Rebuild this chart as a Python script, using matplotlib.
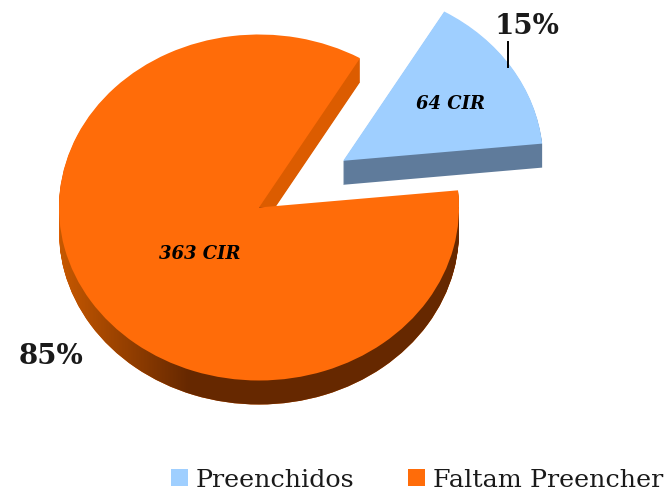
import numpy as np
import matplotlib.pyplot as plt
from matplotlib.colors import LinearSegmentedColormap

plt.rcParams['font.family'] = ['DejaVu Serif', 'Liberation Serif']

# --------------------------------
# Data
# --------------------------------
categories = ["Preenchidos", "Faltam Preencher"]
counts = [64, 363]
count_labels = ["64 CIR", "363 CIR"]
percent_labels = ["15%", "85%"]

# --------------------------------
# Style / geometry (picture pixels)
# --------------------------------
W, H = 667, 493
cx, cy = 259, 207.5
rx, ry = 200, 173
depth_px = 24

top_colors = ["#9fcfff", "#ff6c09"]
wall_colors = ["#5f7b9b", "#dc5c00"]
side_cmap = LinearSegmentedColormap.from_list("side", ["#c65800", "#662800"])


def px(x, y):
    return (x - cx) / rx, (cy - y) / ry


fig = plt.figure(figsize=(W / 100, H / 100), dpi=100)
ax = fig.add_axes([0, 0, 1, 1])

explode = [0.5, 0]
start = 5.7

# extruded sides, one pie per pixel of depth
for d in np.arange(depth_px, 0, -1):
    wedges, _ = ax.pie(counts, colors=wall_colors, explode=explode, startangle=start,
                       center=(0, -d / ry), wedgeprops={"linewidth": 0})
    for w in wedges:
        w.set_zorder(1)
    # outer rim of the big slice gets a left to right shading
    x0, y0 = px(60, cy)
    x1, y1 = px(190, cy + 240)
    grad = np.linspace(0, 1, 130).reshape(1, -1)
    im = ax.imshow(grad, cmap=side_cmap, extent=(x0, x1, y1, y0), aspect="auto", zorder=2)
    im.set_clip_path(wedges[1])
    x2, _ = px(460, cy)
    im2 = ax.imshow([[1, 1]], cmap=side_cmap, vmin=0, vmax=1,
                    extent=(x1, x2, y1, y0), aspect="auto", zorder=2)
    im2.set_clip_path(wedges[1])

wedges, _ = ax.pie(counts, colors=top_colors, explode=explode, startangle=start,
                   wedgeprops={"linewidth": 0})
for w in wedges:
    w.set_zorder(3)

ax.set_aspect("auto")
ax.set_xlim(*sorted((px(0, 0)[0], px(W, 0)[0])))
ax.set_ylim(px(0, H)[1], px(0, 0)[1])

# --------------------------------
# Labels
# --------------------------------
lx, ly0 = px(507.5, 42)
_, ly1 = px(507.5, 67)
ax.plot([lx, lx], [ly0, ly1], color="black", linewidth=1.4, zorder=4)

label_pos = [(450, 104), (200, 254)]
for txt, (x, y) in zip(count_labels, label_pos):
    ax.text(*px(x, y), txt, fontsize=13, fontweight="bold", fontstyle="italic",
            ha="center", va="center", zorder=5)

pct_pos = [(527, 27), (51, 356)]
for txt, (x, y) in zip(percent_labels, pct_pos):
    ax.text(*px(x, y), txt, fontsize=20, fontweight="bold", color="#1a1a1a",
            ha="center", va="center", zorder=5)

ax.legend(wedges, categories, ncol=2, loc="lower right", bbox_to_anchor=(1.0, -0.005),
          frameon=False, fontsize=18.3, handlelength=0.68, handleheight=0.68,
          handletextpad=0.31, columnspacing=2.1, borderaxespad=0.15, borderpad=0,
          labelcolor="#1a1a1a")

fig.savefig("out.png", dpi=100, facecolor="white")
